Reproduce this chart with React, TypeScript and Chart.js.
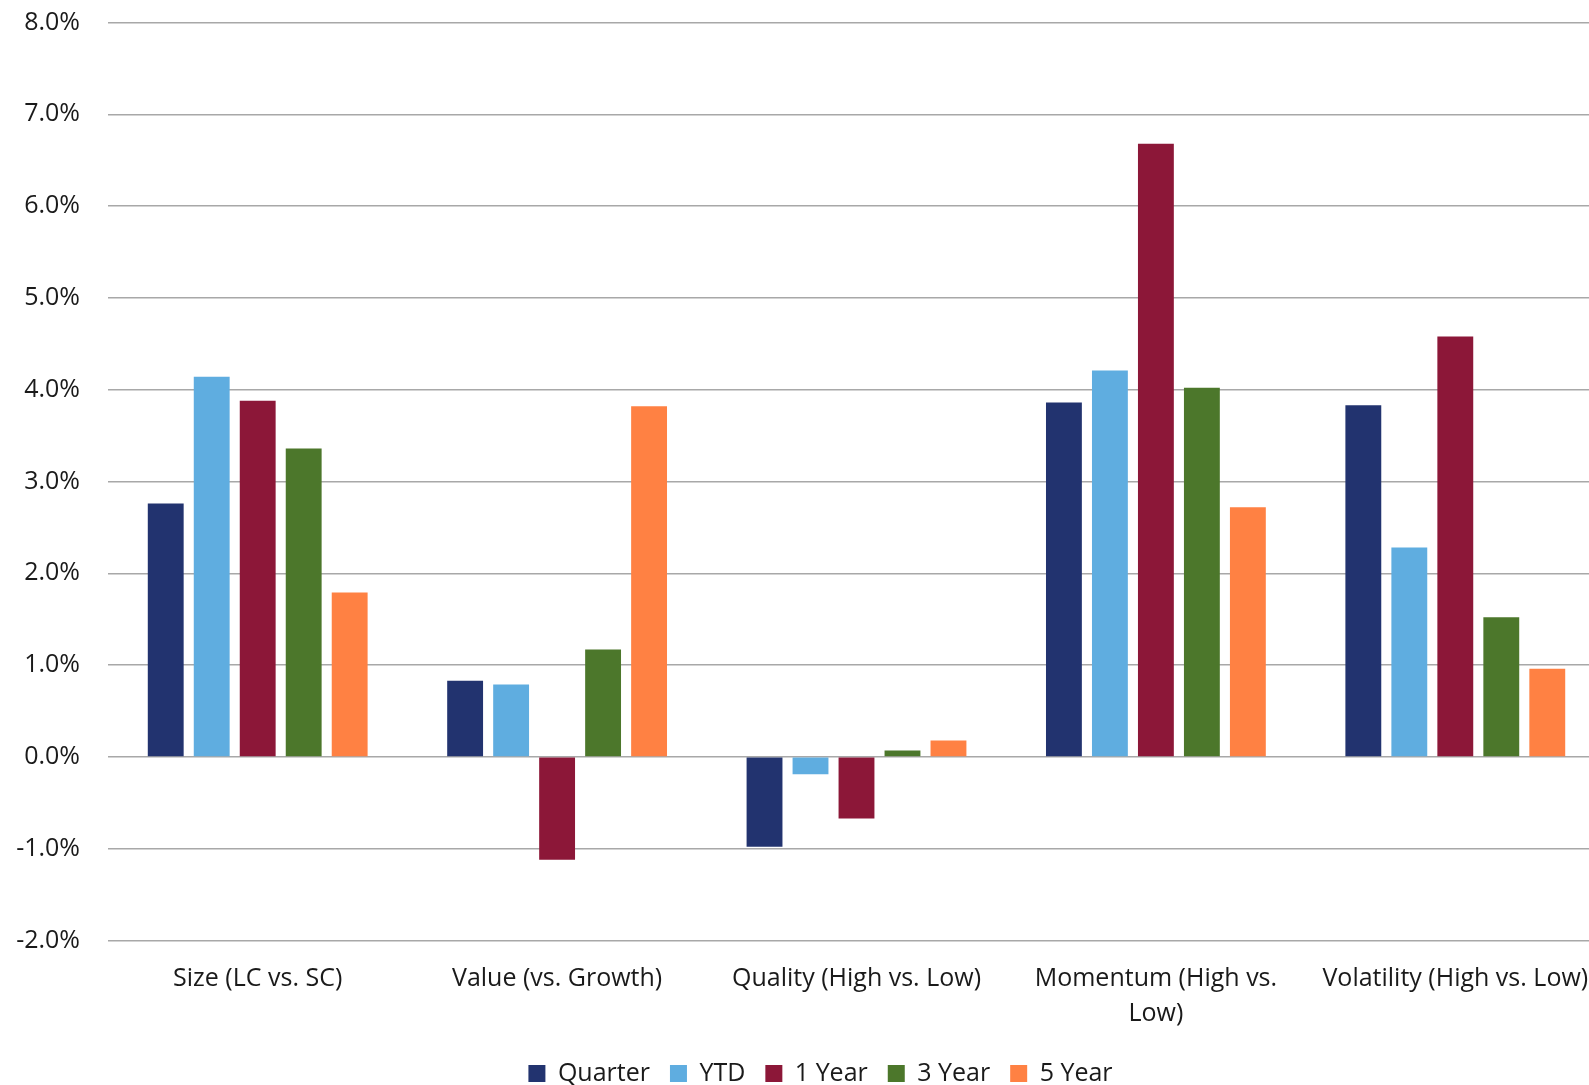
import React, { useEffect, useRef } from "react";
import { Chart, registerables } from "chart.js";

Chart.register(...registerables);

// Factor return spreads (%) by look-back window
const categories: (string | string[])[] = [
  "Size (LC vs. SC)",
  "Value (vs. Growth)",
  "Quality (High vs. Low)",
  ["Momentum (High vs.", "Low)"],
  "Volatility (High vs. Low)",
];

const seriesNames = ["Quarter", "YTD", "1 Year", "3 Year", "5 Year"];
const seriesColors = ["#22336F", "#5FADE0", "#8C1738", "#4C772B", "#FF8143"];

const quarter = [2.76, 0.83, -0.98, 3.86, 3.83];
const ytd = [4.14, 0.79, -0.19, 4.21, 2.28];
const oneYear = [3.88, -1.12, -0.67, 6.68, 4.58];
const threeYear = [3.36, 1.17, 0.07, 4.02, 1.52];
const fiveYear = [1.79, 3.82, 0.18, 2.72, 0.96];

const yMin = -2;
const yMax = 8;
const yStep = 1;

const FONT = "'Open Sans', 'Noto Sans', sans-serif";
const TEXT = "#1a1a1a";
const FONT_SIZE = 25;
const FONT_WEIGHT = "400";

// nudges the bottom legend to the right so it sits under the plot's middle
const legendShift = {
  id: "legendShift",
  afterLayout(chart: any) {
    const lg = chart.legend;
    if (lg) {
      lg.left += 18;
      lg.right += 18;
    }
  },
};

export default function App() {
  const ref = useRef<HTMLCanvasElement>(null);

  useEffect(() => {
    if (!ref.current) return;
    const values = [quarter, ytd, oneYear, threeYear, fiveYear];
    const chart = new Chart(ref.current, {
      type: "bar",
      data: {
        labels: categories,
        datasets: seriesNames.map((name, i) => ({
          label: name,
          data: values[i],
          backgroundColor: seriesColors[i],
          borderWidth: 0,
          categoryPercentage: 0.768,
          barPercentage: 0.78,
        })),
      },
      options: {
        animation: false,
        responsive: false,
        devicePixelRatio: 1,
        layout: { padding: { top: 22.5, left: 0, right: 30, bottom: 0 } },
        plugins: {
          tooltip: { enabled: false },
          legend: {
            position: "bottom",
            labels: {
              boxWidth: 17,
              boxHeight: 17,
              padding: 20,
              color: TEXT,
              font: { family: FONT, size: FONT_SIZE, weight: FONT_WEIGHT },
            },
          },
        },
        scales: {
          x: {
            grid: { display: false },
            border: { display: false },
            ticks: {
              autoSkip: false,
              maxRotation: 0,
              minRotation: 0,
              padding: 13,
              color: TEXT,
              font: { family: FONT, size: FONT_SIZE, weight: FONT_WEIGHT, lineHeight: 1.4 },
            },
            afterFit: (s: any) => {
              s.height = 100.5;
            },
          },
          y: {
            min: yMin,
            max: yMax,
            border: { display: false },
            grid: {
              color: "#A8A8A8",
              lineWidth: 1.4,
              drawTicks: true,
              tickLength: 28,
              tickColor: "rgba(0,0,0,0)",
            },
            ticks: {
              stepSize: yStep,
              padding: 0,
              color: TEXT,
              font: { family: FONT, size: FONT_SIZE, weight: FONT_WEIGHT },
              callback: (v: any) => Number(v).toFixed(1) + "%",
            },
            afterFit: (s: any) => {
              s.width = 108;
            },
          },
        },
      },
      plugins: [legendShift],
    });
    return () => chart.destroy();
  }, []);

  return (
    <div
      style={{
        position: "fixed",
        left: 0,
        top: 0,
        width: "100vw",
        height: "100vh",
        overflow: "hidden",
        background: "#fff",
      }}
    >
      <canvas ref={ref} width={1635} height={1096} style={{ display: "block" }} />
    </div>
  );
}
